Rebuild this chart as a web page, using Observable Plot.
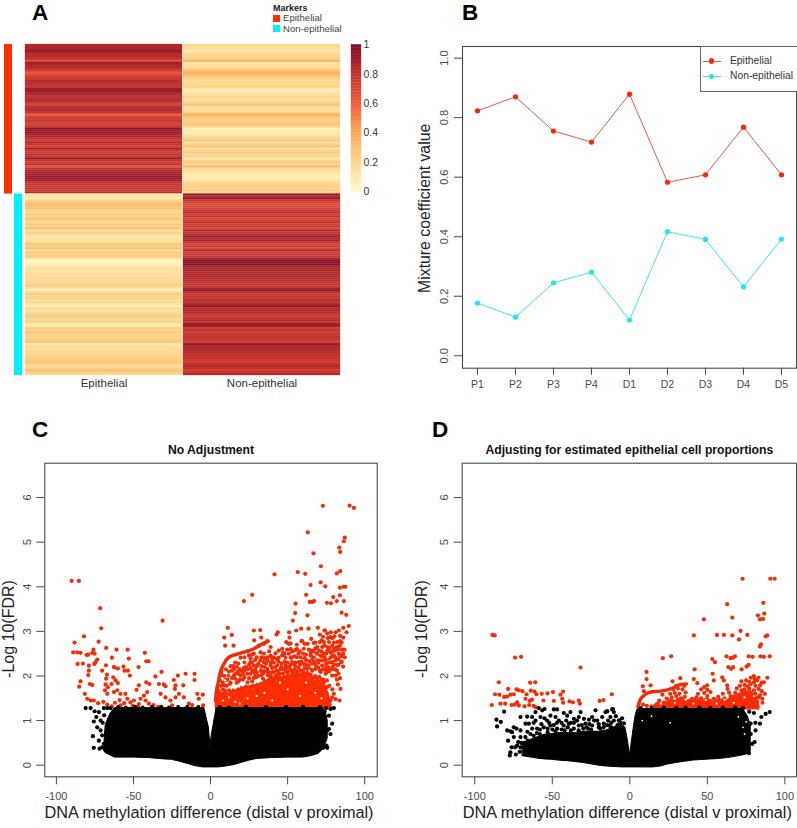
<!DOCTYPE html>
<html><head><meta charset="utf-8">
<script src="https://cdn.jsdelivr.net/npm/d3@7"></script>
<script src="https://cdn.jsdelivr.net/npm/@observablehq/plot@0.6"></script>
<style>
html,body{margin:0;padding:0;background:#fff}
#page{position:relative;width:797px;height:828px;overflow:hidden;font-family:"Liberation Sans",Arial,sans-serif;color:#222}
.t{position:absolute;white-space:nowrap;line-height:1}
.s{position:absolute}
svg{background:transparent!important}
</style></head><body><div id="page"></div>
<script>
// Panel A values
const columns=["Epithelial","Non-epithelial"];
const epiTop=[.83,.84,.85,.92,.85,.82,.82,.78,.65,.9,.85,.84,.8,.72,.62,.68,.75,.78,.83,.82,.8,.78,.9,.95,.87,.85,.8,.83,.85,.78,.72,.82,.84,.85,.78,.6,.72,.76,.78,.75,.74,.78,.95,.9,.93,.88,.85,.8,.74,.85,.78,.72,.88,.78,.75,.8,.78,.93,.78,.74,.82,.64,.8,.85,.88,.9,.91,.92,.9,.8,.78,.76,.78,.76,.82];
const nonTop=[.17,.16,.15,.08,.15,.18,.18,.22,.33,.1,.15,.16,.2,.28,.36,.32,.25,.22,.17,.18,.2,.22,.1,.05,.13,.15,.2,.17,.15,.22,.28,.18,.16,.15,.22,.38,.28,.24,.22,.25,.26,.22,.05,.1,.07,.12,.15,.2,.26,.15,.22,.28,.12,.22,.25,.2,.22,.07,.22,.26,.18,.34,.2,.15,.12,.1,.09,.08,.1,.2,.22,.24,.22,.24,.18];
const epiBot=[.07,.15,.05,.22,.28,.32,.3,.28,.22,.18,.25,.2,.28,.24,.18,.26,.22,.3,.15,.22,.18,.1,.15,.12,.2,.28,.22,.3,.15,.26,.22,.25,.15,.03,.02,.04,.1,.15,.13,.16,.16,.14,.18,.18,.2,.22,.24,.12,.06,.18,.24,.2,.22,.15,.2,.12,.05,.18,.14,.16,.22,.24,.2,.18,.22,.07,.1,.24,.2,.26,.22,.22,.2,.24,.26,.08,.15,.16,.16,.18,.2,.2,.22,.24,.26,.22,.15,.2,.28,.24,.18];
const nonBot=[.93,.85,.95,.78,.72,.68,.7,.72,.78,.82,.75,.8,.72,.76,.82,.74,.78,.7,.85,.78,.82,.9,.85,.88,.8,.72,.78,.7,.85,.74,.78,.75,.85,.97,.98,.96,.9,.85,.87,.84,.84,.86,.82,.82,.8,.78,.76,.88,.94,.82,.76,.8,.78,.85,.8,.88,.95,.82,.86,.84,.78,.76,.8,.82,.78,.93,.9,.76,.8,.74,.78,.78,.8,.76,.74,.92,.85,.84,.84,.82,.8,.8,.78,.76,.74,.78,.85,.8,.72,.76,.82];
const markerGroups=["Epithelial","Non-epithelial"];
const barLevels=[0,.02,.04,.06,.08,.1,.12,.14,.16,.18,.2,.22,.24,.26,.28,.3,.32,.34,.36,.38,.4,.42,.44,.46,.48,.5,.52,.54,.56,.58,.6,.62,.64,.66,.68,.7,.72,.74,.76,.78,.8,.82,.84,.86,.88,.9,.92,.94,.96,.98];
const barTicks=[0,.2,.4,.6,.8,1];
const heatStops=[0,.2,.4,.6,.8,1];
const heatColors=["#fff8c4","#fed68c","#fda552","#f2583a","#c0302c","#7a0c28"];

// Panel B values
const samples=["P1","P2","P3","P4","D1","D2","D3","D4","D5"];
const epiCoef=[.823,.87,.755,.718,.879,.583,.608,.768,.608];
const nonCoef=[.177,.13,.245,.281,.12,.417,.391,.232,.392];
const coefTicks=[0,.2,.4,.6,.8,1];

// Panels C, D shared
const fdrTicks=[0,1,2,3,4,5,6];
const diffTicks=[-100,-50,0,50,100];

// Panel C: black mass outline
const cMassX=[-69,-68,-65,-62,-60,-50,-40,-30,-25,-20,-15,-10,-5,-4,-2.5,-1.1,-.5,0,.5,1.7,3,3.9,5,10,15,20,25,30,40,50,60,65,70,73,75,76];
const cMassLow=[.32,.27,.22,.17,.17,.17,.16,.13,.12,.08,.03,-.02,-.05,-.05,-.05,-.05,-.05,-.05,-.05,-.05,-.05,-.05,-.05,-.03,0,.05,.1,.14,.16,.17,.17,.2,.25,.35,.5,.6];
const cMassTop=[.4,.9,1.15,1.28,1.28,1.28,1.28,1.28,1.28,1.28,1.28,1.28,1.28,1.28,1.05,.85,.6,.33,.6,.85,1.1,1.28,1.28,1.28,1.28,1.28,1.28,1.28,1.28,1.28,1.28,1.28,1.28,1.28,1.15,1];
const cBlack=[[-81,1.28],[-77.8,1.28],[-75.2,1.21],[-72.4,1.19],[-69.2,1.28],[-67,1.28],[-64.9,1.28],[-74.1,1.08],[-75.7,.98],[-71.3,1],[-73.5,.85],[-71.3,.78],[-76.3,.65],[-70.3,.67],[-72.4,.55],[-69.2,.48],[-75.7,.39],[-72,.37],[-70.3,.4],[-67,.74],[-70,.95],[-69,1.12],
[77.8,1.26],[80,1.28],[76.8,1.11],[78.9,.93],[75.7,.78],[77.8,.7],[73.5,.55],[75.2,.44],[73.1,.39],[75.7,.39],[76.8,.81],[75,1.28],[74,1.2],
[-60,1.3],[-55,1.29],[-49,1.31],[-44,1.29],[-38,1.3],[-32,1.31],[-27,1.29],[-21,1.3],[-15,1.31],[-8,1.3],[6,1.3],[12,1.29],[23,1.31],[36,1.3],[49,1.31],[60,1.31],[71,1.3]];
// Panel C: dense red band outline and curved ridge
const cCoreX=[3,4,6,8,10,12,15,18,20,23,25,28,30,33,35,38,40,43,45,48,50,53,55,58,60,63,65,68,70,72,74,77,79];
const cCoreTop=[1.5,1.62,1.7,1.62,1.72,1.6,1.72,1.62,1.78,1.68,1.8,1.7,1.85,1.75,1.95,1.85,2,1.88,2.02,1.9,2.05,1.92,2.1,1.95,2.1,1.95,2.05,1.9,1.98,1.85,1.85,1.6,1.35];
const cCoreBase=[1.26,1.26,1.26,1.26,1.26,1.26,1.26,1.26,1.26,1.26,1.26,1.26,1.26,1.26,1.26,1.26,1.26,1.26,1.26,1.26,1.26,1.26,1.26,1.26,1.26,1.26,1.26,1.26,1.26,1.26,1.26,1.26,1.26];
const cRidgeX=[3.2,3.6,4.8,6.1,8.65,11.9,19.5,28.1,33.5,37.4];
const cRidgeY=[1.45,1.6,1.82,2.05,2.27,2.42,2.51,2.61,2.72,2.78];
const cRedEdge=[[8,1.7],[9.2,1.64],[12,1.68],[13.2,1.63],[18,1.7],[16.7,1.66],[23,1.76],[21.6,1.72],[28,1.78],[26.5,1.76],[33,1.83],[31.6,1.8],[38,1.92],[36.5,1.88],[43,1.96],[41.5,1.93],[48,1.98],[46.5,1.95],[53,2],[51.5,1.98],[58,2.03],[56.5,2],[63,2.03],[61.5,2],[68,1.98],[66.5,1.96],[72,1.92],[73.5,1.86],[75.5,1.75],[4.5,1.72],[6.8,1.78]];
const cRed=[[72.9,5.815],[90.2,5.82],[93,5.77],[63.1,5.22],[87.1,5.1],[86.5,5.02],[83.5,4.88],[84.1,4.78],[66.8,4.75],[71.6,4.46],[41.5,4.28],[56.6,4.33],[61.4,4.29],[84.1,4.35],[81.9,4.3],[71.4,4.1],[74.4,4.01],[64.9,4.04],[83.9,3.98],[86.3,4],[87.4,4],[27,3.82],[21.6,3.68],[62,3.82],[79.6,3.77],[83.9,3.81],[64.4,3.66],[65.9,3.66],[67.2,3.68],[81.9,3.68],[86.5,3.68],[75.5,3.64],[78.1,3.63],[55.1,3.62],[54.9,3.41],[85,3.42],[88,3.37],[62.9,3.36],[53.4,3.24],[89.7,3.12],[86.1,3.08],[69.6,3.08],[63.6,3.06],[58.8,3.06],[55.6,3.02],[51,2.98],[43.7,2.98],[42.8,2.93],[28.1,3.02],[32.2,3.03],[11.2,3.08],[8.9,2.86],[13.8,2.92],[9.5,2.68],[14.9,2.68],[28.3,2.8],[32.9,2.86],[51.2,2.86],[49.1,2.76],[51.9,2.73],[59,2.78],[70.9,2.93],[88.2,2.98],[86.1,2.86],[74.2,3.02],
[36.8,2.78],[34.6,2.72],[31.4,2.68],[32.4,2.53],[34.6,2.5],[28.1,2.5],[24.9,2.46],[19.5,2.41],[44.3,2.57],[46.5,2.61],[42.2,2.51],[41.1,2.42],[46.5,2.46],[44.3,2.41],[50.8,2.72],[49.7,2.59],[50.8,2.5],[48.6,2.41],[51.9,2.41],[59.5,2.78],[60.5,2.61],[60.1,2.5],[63.8,2.59],[65.9,2.57],[64.9,2.46],[58.4,2.42],[54.5,2.44],[65.3,2.83],[67,2.74],[69.2,2.65],[70.3,2.57],[72.4,2.65],[70.9,2.76],[73.5,2.76],[76.8,2.76],[73.9,3.02],[75.7,2.95],[77.8,2.87],[81.1,2.98],[83.2,3.02],[80.4,2.89],[82.2,2.76],[83.9,2.68],[78.9,2.68],[75.7,2.57],[77.8,2.53],[73.5,2.5],[81.1,2.57],[83.2,2.5],[86.9,2.59],[85.4,2.59],[84.8,2.31],[86,2.21],[87.1,2.42],[80,2.46],[76.8,2.39],[74.6,2.35],[78.9,2.31],[72.4,2.24],[76.1,2.2],[79.3,2.16],[81.1,2.01],[78.9,2.01],[82.6,1.81],[84.3,1.71],[78.9,1.52],[81.1,1.48],[83.7,1.45],[77.8,1.45],
[14.7,2.22],[11.9,2.01],[15.1,2.01],[17.3,2.09],[21.6,2.18],[25.9,2.31],[28.1,2.24],[32.4,2.35],[34.6,2.31],[38.9,2.24],[36.8,2.16],[43.2,2.24],[45.4,2.16],[41.1,2.09],[48.6,2.24],[50.8,2.2],[54,2.27],[57.3,2.31],[60.5,2.27],[63.8,2.24],[67,2.31],[69.2,2.35],[54.5,2.14],[58.4,2.12],[63.1,2.09],[68.1,2.16],[71.4,2.09],[74.6,2.05],[32.4,2.12],[28.1,2.09],[23.8,2.05],[19.5,2.01],[16.2,1.94],[9.7,1.91],[9,1.79],
[10.5,1.78],[13,1.85],[18,1.88],[21,1.92],[25,1.95],[27,1.88],[30,1.98],[33,2.02],[37,2.02],[39,1.98],[43,2.02],[47,2.05],[50,2.06],[53,2.04],[56,2.08],[61,2.06],[65,2.03],[68,2],[70.5,1.98],[73,1.92],[75.5,1.9],[77,1.78],[79,1.7],[80,1.6],
[6,1.9],[7.5,2.02],[8,1.85],[11,1.92],[12.5,1.82],[14,1.95],[16,2.05],[14,2.12],[17,1.85],[19,1.92],[20,2.12],[22,1.98],[23,2.2],[24,1.86],[26,2.05],[26,2.18],[28,1.95],[30,2.08],[30,2.22],[31,2],[33,2.22],[34,1.94],[35,2.1],[36,2.28],[38,2.08],[39,2],[40,2.18],[41,2.3],[42,2],[44,2.1],[46,2.28],[47,2.15],[49,2.1],[52,2.15],[53,2.33],[55,2.22],[56,2.1],[58,2.25],[59,2.03],[61,2.18],[62,2.35],[63,2.16],[66,2.12],[66,2.38],[68,2.25],[70,2.18],[71,2.45],[73,2.15],[73,2.35],[75,2.2],[77,2.1],[79,2.45],[82,2.25],[83,2.38],[85,2.45],[69,2.5],[67,2.55],[62,2.48],[57,2.5],[55,2.58],[53,2.55],[47,2.52],[40,2.38],[37,2.42],[30,2.42],[26,2.4],[22,2.3],[18,2.28],[16,2.3],[24,2.55],[38,2.55],[39,2.65],[56,2.7],[63,2.72],[73,2.88],[78,2.98],[84,2.9],[85,2.75],[80,2.75],[72,2.55],[76,2.65],[81,2.35],[79,2.2],[75,2.08],[81,2.15],[83,2.05],[84,1.95],[82,1.92],
[7,2.1],[9,2],[10,2.15],[12,2.1],[13,2.22],[15,2.15],[17,2.2],[18,2.05],[19,2.15],[21,2.05],[22,2.12],[24,2.15],[25,2.25],[27,2.12],[27,2.3],[29,2.02],[29,2.15],[31,2.28],[33,2.12],[34,2.05],[35,2.2],[37,2.1],[37,2.35],[39,2.3],[40,2.08],[42,2.2],[43,2.12],[44,2.32],[45,2.05],[46,2.2],[48,2.32],[49,2.18],[50,2.3],[50,2.1],[52,2.25],[53,2.1],[53,2.42],[55,2.3],[56,2.42],[57,2.18],[59,2.32],[60,2.12],[61,2.4],[62,2.25],[64,2.33],[65,2.15],[65,2.52],[66,2.28],[67,2.42],[68,2.62],[69,2.2],[70,2.3],[71,2.12],[71,2.35],[72,2.45],[74,2.15],[74,2.42],[75,2.28],[75,2.5],[76,2.12],[77,2.3],[77,2.62],[78,2.42],[78,2.15],[79,2.55],[80,2.25],[80,2.62],[81,2.42],[82,2.65],[82,2.12],[83,2.25],[83,2.6],[84,2.45],[85,2.32],[86,2.5],[61,2.72],[58,2.55],[56,2.6],[52,2.6],[48,2.5],[43,2.38],[39,2.45],[35,2.4],[33,2.42],[29,2.36],[27,2.48],[22,2.42],[68,2.75],[74,2.68],[79,2.85],[84,2.78],[72,2.8],[76,2.85],
[-90.1,4.13],[-85.4,4.13],[-71.6,3.52],[-70.9,3.07],[-31.1,3.24],[-82.1,2.89],[-88.2,2.75],[-72.6,2.77],[-67.7,2.63],[-61,2.59],[-53.8,2.59],[-42.6,2.52],[-89.1,2.53],[-86.5,2.53],[-84.3,2.52],[-80.4,2.47],[-79.3,2.48],[-76.7,2.52],[-75.9,2.59],[-75.2,2.5],[-64,2.41],[-53,2.39],[-41.7,2.33],[-40.2,2.33],[-73.5,2.37],[-74.6,2.31],[-75.4,2.27],[-86.2,2.27],[-82.8,2.28],[-78.9,2.23],[-67.8,2.24],[-62.3,2.19],[-60.1,2.17],[-56.4,2.21],[-46.7,2.2],
[-78.9,2.12],[-79.3,2.02],[-70.3,2.12],[-67.2,2.03],[-67.7,1.94],[-62.7,2.2],[-55.8,2.12],[-53.6,2.12],[-52.3,2.01],[-63.1,1.97],[-61.6,1.9],[-60.1,1.84],[-68.1,1.81],[-66.6,1.75],[-64.2,1.82],[-84.3,1.88],[-85.2,1.76],[-78.3,1.82],[-76.7,1.8],[-81.5,1.6],[-80,1.49],[-77.8,1.45],[-75.7,1.45],[-72.9,1.39],[-68.5,1.68],[-67,1.6],[-62.7,1.64],[-60.5,1.68],[-58.4,1.6],[-55.2,1.6],[-35.7,1.99],[-31.8,2.09],[-41.7,1.86],[-39.6,1.82],[-46.5,1.79],[-48,1.69],[-33.5,1.82],[-30.3,1.81],[-29.2,1.77],[-23.8,1.91],[-21.2,2.01],[-16.2,2.05],[-10.4,2.05],[-10.4,1.91],[-22.7,1.79],[-23.1,1.71],[-17.7,1.79],[-41.1,1.64],[-43.2,1.56],[-45.4,1.49],[-42.1,1.45],[-40,1.38],[-32.4,1.6],[-29.2,1.52],[-26,1.45],[-24.9,1.34],[-20.5,1.6],[-22.7,1.52],[-17.3,1.52],[-8.6,1.6],[-5,1.58],[-7.6,1.49],[-4.8,1.34],[-14,1.38],[-11.9,1.35],
[-54,1.49],[-52,1.41],[-56,1.39],[-58.4,1.34],[-49.7,1.45],[-46.5,1.37],[-62,1.4],[-64,1.32],[-67,1.36],[-69.5,1.42],[-59,1.46],[-50.5,1.33],[-47,1.31],[-37,1.35],[-34,1.31]];
const cGaps=[[8,1.45],[9.5,1.9],[12,1.52],[13,2.03],[16,1.42],[17.5,1.98],[24,1.5],[21,2.25],[30,1.55],[19,1.38],[40,1.45],[35,1.62],[50,1.7],[58,1.55],[68,1.62],[72,1.5],[45,1.85],[62,1.85],[31,2.14],[47,2.4],[64,2.12],[70,2.42],[76,2.42],[54,2.36]];

// Panel D
const dMassX=[-69,-65,-60,-55,-50,-45,-40,-35,-30,-25,-20,-15,-10,-5,-3,-2,-1,0,1,2,3,4,5,10,15,20,24,30,41,50,58,65,73,76,78];
const dMassLow=[.2,.18,.15,.13,.12,.1,.09,.07,.05,.02,-.01,-.03,-.04,-.05,-.05,-.05,-.05,-.05,-.05,-.05,-.05,-.05,-.05,-.05,-.05,-.03,.01,.05,.105,.125,.14,.17,.22,.25,.3];
const dMassTop=[.45,.55,.62,.68,.7,.72,.72,.72,.75,.75,.75,.78,.85,.9,.85,.7,.5,.22,.45,.7,.95,1.15,1.25,1.26,1.26,1.26,1.26,1.26,1.26,1.26,1.26,1.26,1.26,1.1,.9];
const dBlack=[[-86,1.02],[-83.2,.97],[-85.6,.87],[-81.1,1.2],[-58.7,1.28],[-56.5,1.23],[-55,1.26],[-60.8,1.19],[-63,1.08],[-66.2,1.09],[-70.5,1.08],[-67.3,.93],[-70.5,.78],[-65.1,.93],[-60.8,1],[-57.6,1.08],[-53.3,1],[-51.2,1.11],[-49,1.25],[-46.9,1.25],[-47.9,1.08],[-45.8,1],[-42.6,1.17],[-40.4,1.11],[-38.3,1.19],[-36.1,1.04],[-39.3,.93],[-42.6,.89],[-31.8,1.19],[-32.9,1.08],[-29.6,1.04],[-26.4,1.02],[-24.3,1.08],[-22.1,1.23],[-28.6,.93],[-32.9,.89],[-24.3,.89],[-15.7,1.19],[-14.6,1.21],[-17.8,1.08],[-21,1],[-16.8,.93],[-11.4,1.25],[-12.5,1.08],[-10.3,1],[-7.1,1],[-13.5,.89],[-51.2,.89],[-55.5,.85],[-59.8,.82],[-46.9,.82],[-36.1,.82],[-64.1,.7],[-67.3,.63],[-70.5,.63],[-73.1,.82],[-74.8,.85],[-75.9,.74],[-79.1,.78],[-77,.76],[-78.5,.55],[-74.8,.63],[-72.7,.44],[-76.3,.4],[-77,.29],[-77.4,.22],[-73.5,.24],[-70.5,.4],[-10.3,1.19],[-10.9,1.26],[-14.6,1.21],[-7,1],[-3.8,.94],[-63,.82],[-57,.92],[-50,.8],[-44,.8],[-40,.85],[-30,.82],[-27,.82],[-20,.85],[-12,.95],[-8,.9],
[-66,.75],[-62,.95],[-60,.72],[-58,.8],[-55,1.05],[-53,.82],[-52,.95],[-49,.9],[-47,.95],[-44,.95],[-41,1],[-38,.95],[-36,.95],[-34,1],[-31,.9],[-28,.85],[-26,.92],[-23,1],[-20,.92],[-19,.82],[-17,.85],[-15,.9],[-14,1],[-9,1.1],[-6,.95],[-5,1.05],[-12,.85],[-25,.8],[-33,.78],[-38,.78],[-42,.78],[-48,.76],[-53,.74],[-58,.7],[-62,.66],[-66,.55],[-68,.5],[-70,.5],[-72,.52],[-74,.4],[-71,.3],
[90.2,1.19],[87.6,1.15],[84.8,1.08],[80,1.17],[83.9,.93],[81.1,.78],[80.5,.52],[79,.48],[76.8,.27],[77.9,.93],[81,.95],[78,.7],[77,1.2],[73,1.28],[68,1.29],[60,1.29],[52,1.28],[45,1.29],[36,1.29],[30,1.28],[22,1.29],[14,1.28],[7,1.28]];
const dGaps=[[14,1.1],[75,.97],[73,.85],[26,.95],[8,1],[70,1.08],[74,.7]];
const dCoreX=[14,18,22,26,30,34,38,42,46,50,54,58,62,66,70,74,78,82,84];
const dCoreTop=[1.3,1.42,1.38,1.48,1.45,1.52,1.42,1.5,1.44,1.52,1.42,1.5,1.44,1.55,1.6,1.65,1.68,1.55,1.32];
const dCoreBase=[1.24,1.24,1.24,1.24,1.24,1.24,1.24,1.24,1.24,1.24,1.24,1.24,1.24,1.24,1.24,1.24,1.24,1.24,1.24];
const dRedGaps=[[20,1.38],[29,1.4],[36,1.47],[41,1.38],[49,1.46],[56,1.38],[61,1.47],[67,1.4],[74,1.52],[80,1.55],[24,1.56],[44,1.66],[70,1.66]];
const dRidgeX=[5.2,6.5,9.1,13.4,19.8,26.3,32.7,36.6];
const dRidgeY=[1.3,1.45,1.56,1.64,1.66,1.71,1.81,1.82];
const dRed=[[72.7,4.18],[90.6,4.18],[93.4,4.18],[62.8,3.61],[86.1,3.64],[47.8,3.27],[66.1,3.31],[82.6,3.36],[83.9,3.27],[85.9,3.28],[86.7,3.4],[41.3,2.91],[56.2,2.92],[60.7,2.92],[66.1,2.91],[71.4,3.01],[75.8,2.92],[70.4,2.82],[88.7,2.91],[87.6,2.89],[84.6,2.71],[83.9,2.66],[21.3,2.4],[26.7,2.44],[53.2,2.38],[54.9,2.31],[62.4,2.44],[65,2.4],[66.5,2.41],[67.8,2.44],[76.6,2.44],[79.2,2.43],[84.3,2.44],[86.5,2.43],[90.2,2.44],[41.8,2.15],[63.5,2.2],[66.7,2.2],[65.4,2.16],[72.1,2.15],[75.3,2.21],[76.6,2.25],[10.8,2.09],[10.8,1.93],[53.4,2.05],[54.2,1.9],[59.6,1.97],[60.7,1.9],[32.5,1.95],[27.6,1.88],[41.3,1.93],[43.5,1.84],[8.4,1.77],[9.1,1.66],[13.4,1.79],[49.9,1.79],[62.8,1.79],[88.7,1.96],[86.5,1.86],[87.1,1.6],[85.4,1.49],[85.6,1.4],
[-88.6,2.92],[-87.1,2.91],[-74,2.41],[-70.1,2.43],[-31.8,2.19],[-84.5,1.86],[-64.3,1.85],[-61,1.86],[-78.5,1.71],[-73.1,1.7],[-71.6,1.68],[-69.2,1.66],[-86.9,1.59],[-84.1,1.58],[-81,1.53],[-79.1,1.54],[-77,1.58],[-74.8,1.59],[-66.6,1.59],[-63.9,1.67],[-61.5,1.65],[-60.2,1.59],[-56.8,1.6],[-53.1,1.61],[-49.6,1.64],[-44.7,1.58],[-43,1.65],[-67.3,1.49],[-64.5,1.44],[-63.1,1.47],[-55.7,1.45],[-49,1.44],[-43.6,1.49],[-43,1.4],[-38.9,1.43],[-36.7,1.41],[-32.9,1.45],[-32.2,1.38],[-19.5,1.44],[-17,1.46],[-11.6,1.59],[-89,1.35],[-83.4,1.38],[-80.4,1.38],[-76.3,1.35],[-74.2,1.36],[-72.7,1.41],[-71.6,1.34],[-67.9,1.32],[-64.9,1.35],[-62.1,1.33],[-60.8,1.3],
[8.5,1.36],[11,1.33],[14,1.32],[17,1.3],[20,1.34],[22.3,1.31],[24.4,1.36],[27,1.31],[30.2,1.33],[33,1.3],[36.1,1.34],[38.2,1.31],[41,1.36],[44.2,1.32],[47,1.3],[50.1,1.35],[53,1.31],[56.3,1.33],[59,1.3],[62.2,1.36],[64.1,1.32],[67,1.31],[70.2,1.34],[73,1.31],[75.4,1.36],[78,1.32],[81,1.34],
[19,1.45],[22,1.41],[25,1.44],[28.2,1.42],[31,1.47],[34.9,1.41],[38,1.44],[42,1.4],[45,1.45],[48.3,1.41],[52,1.43],[55,1.46],[58,1.41],[60.2,1.44],[63,1.42],[66,1.46],[69,1.41],[71.2,1.44],[74,1.42],[77,1.45],[79,1.41],[82,1.43],
[23.8,1.5],[27,1.52],[30,1.55],[33,1.5],[35.5,1.53],[40,1.49],[43,1.52],[46,1.5],[50,1.55],[54,1.49],[57,1.53],[61,1.5],[65,1.55],[68,1.51],[70,1.5],[72,1.54],[75,1.49],[78,1.53],[80,1.5],[83,1.52],
[21,1.58],[26,1.6],[29,1.62],[32,1.6],[36,1.63],[44,1.6],[48,1.62],[52,1.64],[60,1.6],[64,1.63],[68,1.62],[71,1.58],[73,1.6],[76,1.62],[79,1.58],[81,1.6],[84,1.57],
[28,1.7],[31,1.72],[34,1.7],[46,1.7],[50,1.69],[63,1.71],[69,1.72],[72,1.68],[74,1.7],[77,1.72],[80,1.68],[83,1.71],[85,1.66],
[30,1.78],[35,1.78],[48,1.75],[71,1.78],[74,1.8],[76,1.77],[78,1.82],[81,1.78],[84,1.79],[72,1.88],[75,1.9],[77,1.87],[80,1.86],[82,1.9],[85,1.85],[78,1.96],[80,2],[83,1.96],[80.5,1.93]];

const FF='"Liberation Sans",Arial,sans-serif';
const page=document.getElementById("page");
const GRAY="#4a4a4a", RED="#f22c08", CYAN="#1fe6f2", REDLINE="#ee5a44";
const heatScale={type:"linear",domain:heatStops,range:heatColors,interpolate:"rgb"};
const add=(left,top,opts)=>{
  const el=Plot.plot({...opts,style:{position:"absolute",left:left+"px",top:top+"px",fontFamily:FF,background:"transparent",overflow:"visible",...(opts.style||{})}});
  page.appendChild(el);return el;
};
const text=(s,l,t,size,extra={})=>{const d=document.createElement("div");d.className="t";d.textContent=s;
  Object.assign(d.style,{left:l+"px",top:t+"px",fontSize:size+"px"},extra);page.appendChild(d);return d;};
const swatch=(l,t,w,h,c,extra={})=>{const d=document.createElement("div");d.className="s";
  Object.assign(d.style,{left:l+"px",top:t+"px",width:w+"px",height:h+"px",background:c},extra);page.appendChild(d);return d;};

// Panel A heatmap
const rowIds=d3.range(epiTop.length+epiBot.length);
const heatData=[];
[[epiTop,nonTop,0],[epiBot,nonBot,epiTop.length]].forEach(([a,b,off])=>{
  a.forEach((v,i)=>{heatData.push({row:off+i,col:columns[0],v});heatData.push({row:off+i,col:columns[1],v:b[i]});});
});
add(0,40,{width:345,height:352,marginLeft:24,marginRight:4,marginTop:4,marginBottom:17,
  x:{type:"band",domain:columns,padding:0.004,align:.5},
  y:{type:"band",domain:rowIds,padding:0,axis:null},
  color:heatScale,
  marks:[
    Plot.cell(heatData,{x:"col",y:"row",fill:"v",stroke:"v",strokeWidth:.25}),
    Plot.axisX({anchor:"bottom",tickSize:0,tickPadding:3,fontSize:11.5,label:null,fill:"#333"})
  ]});
// side bars
add(0,40,{width:30,height:352,marginLeft:4,marginRight:8,marginTop:4,marginBottom:17,
  x:{domain:[0,9],axis:null},y:{domain:[epiTop.length+epiBot.length,0],axis:null},
  marks:[
    Plot.rect([{g:markerGroups[0],a:0,b:4,s:0,e:epiTop.length},{g:markerGroups[1],a:5,b:9,s:epiTop.length,e:epiTop.length+epiBot.length}],
      {x1:"a",x2:"b",y1:"s",y2:"e",fill:d=>d.g===markerGroups[0]?"#ff2e00":"#00f2f7"})
  ]});
// colour bar
add(345,36,{width:52,height:166,marginLeft:6,marginRight:36,marginTop:8.3,marginBottom:10.5,
  x:{domain:[0,1],axis:null},y:{domain:[0,1]},color:heatScale,
  marks:[
    Plot.rect(barLevels,{x1:()=>0,x2:()=>1,y1:d=>d,y2:d=>d+.02,fill:d=>d,stroke:d=>d,strokeWidth:.3}),
    Plot.axisY({anchor:"right",ticks:barTicks,tickSize:0,tickPadding:2,fontSize:10.5,label:null,fill:"#333",tickFormat:d=>String(+d.toFixed(1))})
  ]});
text("Markers",273,4,9,{fontWeight:"bold"});
swatch(273,14.5,7,7,"#ff2e00");swatch(273,25,7,7,"#00f2f7");
text("Epithelial",283,13,9.6,{color:"#444"});text("Non-epithelial",283,24,9.6,{color:"#444"});

// Panel B
add(400,0,{width:397,height:400,marginLeft:62,marginRight:1,marginTop:46,marginBottom:32.3,
  x:{type:"point",domain:samples,range:[74,384],padding:0},
  y:{domain:[-.0417,1.039]},
  marks:[
    Plot.frame({stroke:GRAY,strokeWidth:1.1}),
    Plot.line(samples.map((s,i)=>({s,v:epiCoef[i]})),{x:"s",y:"v",stroke:REDLINE,strokeWidth:1}),
    Plot.line(samples.map((s,i)=>({s,v:nonCoef[i]})),{x:"s",y:"v",stroke:"#3fe6ee",strokeWidth:1}),
    Plot.dot(samples.map((s,i)=>({s,v:epiCoef[i]})),{x:"s",y:"v",r:2.6,fill:RED}),
    Plot.dot(samples.map((s,i)=>({s,v:nonCoef[i]})),{x:"s",y:"v",r:2.6,fill:CYAN}),
    Plot.axisX({anchor:"bottom",tickSize:7,tickPadding:5,label:null,fontSize:10.5,stroke:GRAY,color:GRAY}),
    Plot.axisY({anchor:"left",ticks:coefTicks,tickSize:8,label:null,tickFormat:()=>"",stroke:GRAY}),
    Plot.text(coefTicks,{y:d=>d,frameAnchor:"left",text:d=>d.toFixed(1),rotate:-90,dx:-18,fontSize:11,fill:GRAY,textAnchor:"middle"}),
    Plot.text(["Mixture coefficient value"],{frameAnchor:"left",textAnchor:"middle",rotate:-90,dx:-38,dy:1,fontSize:15.8,fill:"#222"})
  ]});
swatch(699.5,45.5,98,46,"#fff",{boxSizing:"border-box",border:"1px solid #666",borderRightWidth:0});
swatch(702.5,60.5,18,1,REDLINE);swatch(702.5,76.2,18,1,"#3fe6ee");
swatch(709,58.2,5.4,5.4,RED,{borderRadius:"50%"});swatch(709,73.9,5.4,5.4,CYAN,{borderRadius:"50%"});
text("Epithelial",730,55.5,10.3,{color:"#333"});text("Non-epithelial",730,71,10.3,{color:"#333"});

// Volcano panels
function volcano(left,o){
  const mass=o.mx.map((x,i)=>({x,lo:o.lo[i],hi:o.hi[i]}));
  const ridge=o.rx.map((x,i)=>({x,y:o.ry[i]}));
  add(left,440,{width:o.w,height:388,marginLeft:o.ml,marginRight:o.mr,marginTop:22.7,marginBottom:51.7,
    x:{domain:o.xd},y:{domain:[-.26,6.77]},
    marks:[
      Plot.frame({stroke:GRAY,strokeWidth:1.1}),
      Plot.areaY(o.core,{x:"x",y1:"lo",y2:"hi",fill:"#ff2e00",curve:"linear"}),
      Plot.dot(o.red,{x:d=>d[0],y:d=>d[1],r:2.1,fill:"#f42c06"}),
      Plot.line(ridge,{x:"x",y:"y",stroke:"#f42c06",strokeWidth:3.4,curve:"monotone-x"}),
      Plot.dot(o.gaps1||[],{x:d=>d[0],y:d=>d[1],r:1.1,fill:"#fff"}),
      Plot.areaY(mass,{x:"x",y1:"lo",y2:"hi",fill:"#000",stroke:"#000",strokeWidth:1}),
      Plot.dot(o.black,{x:d=>d[0],y:d=>d[1],r:2.1,fill:"#000"}),
      Plot.dot(o.gaps2||[],{x:d=>d[0],y:d=>d[1],r:.9,fill:"#fff"}),
      Plot.axisX({anchor:"bottom",ticks:diffTicks,tickSize:8,tickPadding:7,label:null,fontSize:11,stroke:GRAY,color:GRAY,tickFormat:d=>String(d)}),
      Plot.axisY({anchor:"left",ticks:fdrTicks,tickSize:8,label:null,tickFormat:()=>"",stroke:GRAY}),
      Plot.text(fdrTicks,{y:d=>d,frameAnchor:"left",text:d=>String(d),rotate:-90,dx:-17.5,fontSize:11,fill:GRAY,textAnchor:"middle"}),
      Plot.text(["-Log 10(FDR)"],{frameAnchor:"left",textAnchor:"middle",rotate:-90,dx:o.ylab,dy:9,fontSize:16,fill:"#222"}),
      Plot.text(["DNA methylation difference (distal v proximal)"],{frameAnchor:"bottom",dy:41,dx:-2,fontSize:16.3,fill:"#222"}),
      Plot.text([o.title],{frameAnchor:"top",dy:-18,fontSize:12.2,fontWeight:"bold",fill:"#111"})
    ]});
}
const zipCore=(xs,lo,hi)=>xs.map((x,i)=>({x,lo:lo[i],hi:hi[i]}));
volcano(0,{w:398,ml:44.3,mr:21.3,xd:[-107.5,108.1],mx:cMassX,lo:cMassLow,hi:cMassTop,rx:cRidgeX,ry:cRidgeY,red:cRed.concat(cRedEdge),black:cBlack,gaps1:cGaps,ylab:-36,title:"No Adjustment",
  core:zipCore(cCoreX,cCoreBase,cCoreTop)});
volcano(400,{w:397,ml:61.7,mr:1,xd:[-108.1,107.5],mx:dMassX,lo:dMassLow,hi:dMassTop,rx:dRidgeX,ry:dRidgeY,red:dRed,black:dBlack,gaps1:dRedGaps,gaps2:dGaps,ylab:-40,title:"Adjusting for estimated epithelial cell proportions",
  core:zipCore(dCoreX,dCoreBase,dCoreTop)});

// Panel letters
[["A",32,5.2],["B",462,5.2],["C",32,421.7],["D",432,421.7]].forEach(([s,l,t])=>text(s,l,t,22.5,{fontWeight:"bold",color:"#000",lineHeight:"0.7"}));
</script></body></html>
